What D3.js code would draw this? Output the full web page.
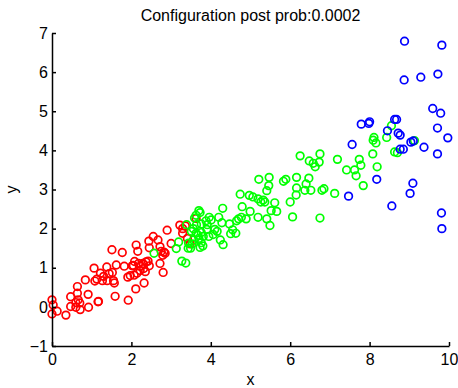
<!DOCTYPE html>
<html>
<head>
<meta charset="utf-8">
<script src="https://cdn.jsdelivr.net/npm/d3@7"></script>
<style>
  body { margin: 0; background: #fff; }
  svg { display: block; font-family: "Liberation Sans", Arial, sans-serif; }
  .axis path, .axis line { stroke: #000; stroke-width: 1.5; }
  .axis text { font-size: 16px; fill: #000; }
</style>
</head>
<body>
<div id="chart"></div>
<script>
// cluster members, [x, y]
const red = [
  [0.00,0.18],[0.03,0.05],[0.00,-0.18],[0.13,-0.11],[0.35,-0.21],[0.47,0.01],[0.47,0.26],
  [0.60,-0.01],[0.64,0.52],[0.64,0.35],[0.71,-0.07],[0.66,0.18],[0.60,0.11],[0.70,0.10],
  [0.91,0.32],[0.92,-0.01],[0.84,0.69],[1.16,0.13],[1.06,0.99],[1.08,0.66],[1.13,0.71],
  [1.22,0.86],[1.30,0.78],[1.44,0.85],[1.52,0.88],[1.27,0.67],[1.39,0.67],[1.55,0.67],
  [1.57,0.61],[1.38,1.02],[1.51,1.46],[1.77,1.39],[2.12,1.58],[2.16,1.42],[1.62,1.07],
  [1.82,1.04],[2.02,1.05],[2.24,1.04],[2.29,1.11],[1.59,0.27],[1.17,0.14],[1.92,0.17],
  [2.11,0.46],[2.32,0.61],[1.91,0.76],[1.97,0.80],[2.07,0.81],[2.14,0.86],[2.22,0.93],
  [2.31,0.98],[2.35,0.90],[2.08,1.16],[2.05,1.06],[2.18,1.11],[2.30,1.09],[2.37,1.15],
  [2.42,1.17],[2.45,1.05],[2.72,1.11],[2.80,0.88],[2.44,1.68],[2.45,1.51],[2.55,1.80],
  [2.67,1.71],[2.72,1.54],[2.75,1.42],[2.79,1.32],[2.82,1.40],[2.85,1.37],[2.90,1.96],
  [3.00,1.62],[3.22,2.09],[3.29,2.00],[3.36,2.07],[3.29,1.88],[3.41,1.75],[3.48,1.61],
  [3.63,2.26]
];

const green = [
  [8.55,4.63],[8.11,4.33],[8.16,4.19],[8.09,4.26],[8.43,4.33],[8.63,3.96],[8.70,3.94],
  [9.13,4.25],[8.08,3.91],[8.19,3.58],[7.74,3.77],[7.78,3.62],[7.42,3.50],[7.62,3.50],
  [7.66,3.35],[7.84,3.10],[7.19,3.77],[6.25,3.86],[6.48,3.73],[6.58,3.67],[6.63,3.58],
  [6.75,3.91],[6.73,3.70],[7.12,2.90],[6.85,3.02],[6.80,2.98],[6.37,2.98],[6.52,2.98],
  [6.16,3.04],[6.15,2.86],[6.40,3.14],[6.47,3.29],[6.16,3.31],[5.83,3.21],[5.89,3.26],
  [5.21,3.26],[5.47,3.31],[5.46,3.10],[5.41,2.97],[6.00,2.68],[6.06,2.30],[6.75,2.27],
  [4.74,2.88],[4.97,2.85],[5.06,2.81],[4.79,2.56],[5.19,2.76],[5.32,2.73],[5.36,2.68],
  [5.26,2.68],[5.61,2.66],[5.52,2.46],[5.66,2.44],[4.99,2.44],[5.19,2.29],[5.41,2.25],
  [5.49,2.08],[4.89,2.25],[4.77,2.29],[4.30,2.52],[4.28,2.15],[4.47,2.12],[4.65,2.20],
  [4.70,2.25],[4.55,1.97],[4.63,1.88],[4.50,1.87],[3.70,2.46],[3.73,2.41],[3.63,2.34],
  [3.96,2.29],[4.01,2.22],[3.88,2.20],[3.91,2.10],[4.20,2.29],[3.59,2.27],[3.64,2.10],
  [3.76,2.12],[3.39,2.10],[3.56,2.00],[3.51,1.93],[3.63,1.88],[3.90,1.98],[3.76,1.90],
  [3.68,1.83],[3.81,1.80],[3.70,1.75],[3.56,1.71],[3.53,1.61],[4.10,1.98],[4.16,1.93],
  [3.95,1.80],[4.06,1.85],[4.24,1.71],[4.31,1.59],[3.49,1.50],[3.43,1.50],[3.80,1.56],
  [3.73,1.52],[3.76,1.64],[3.19,1.66],[3.13,1.49],[2.57,1.37],[3.27,1.17],[3.37,1.12],
  [3.44,1.63]
];

const blue = [
  [8.88,6.79],[9.82,6.69],[8.87,5.80],[9.29,5.87],[9.72,5.95],[9.59,5.07],[9.79,4.95],
  [8.63,4.79],[8.68,4.79],[9.71,4.57],[9.97,4.32],[8.72,4.44],[8.77,4.39],[9.04,4.21],
  [9.10,4.24],[9.37,4.08],[9.71,3.91],[8.77,4.03],[8.85,4.03],[7.79,4.67],[7.98,4.69],
  [8.00,4.73],[8.45,4.50],[7.56,4.15],[8.18,3.26],[7.47,2.83],[8.56,2.58],[9.09,3.16],
  [9.02,2.90],[9.81,2.40],[9.82,2.00]
];

const xTicks = [0, 2, 4, 6, 8, 10];
const yTicks = [-1, 0, 1, 2, 3, 4, 5, 6, 7];
const title = "Configuration post prob:0.0002";

const width = 458, height = 388;
const margin = { left: 52, right: 9, top: 33, bottom: 42 };

const svg = d3.select("#chart").append("svg")
  .attr("width", width)
  .attr("height", height);

const x = d3.scaleLinear().domain([0, 10]).range([margin.left, width - margin.right]);
const y = d3.scaleLinear().domain([-1, 7]).range([height - margin.bottom, margin.top]);

// points first, axes on top like matlab
const groups = [
  { pts: red, color: "#ff0000" },
  { pts: green, color: "#00ff00" },
  { pts: blue, color: "#0000ff" }
];

groups.forEach(g => {
  svg.append("g")
    .selectAll("circle")
    .data(g.pts)
    .join("circle")
    .attr("cx", d => x(d[0]))
    .attr("cy", d => y(d[1]))
    .attr("r", 3.8)
    .attr("fill", "none")
    .attr("stroke", g.color)
    .attr("stroke-width", 1.7);
});

svg.append("g")
  .attr("class", "axis")
  .attr("transform", `translate(0,${height - margin.bottom})`)
  .call(d3.axisBottom(x).tickValues(xTicks).tickSizeInner(-4).tickSizeOuter(0).tickPadding(8))
  .call(g => g.selectAll("text").attr("font-size", null));

svg.append("g")
  .attr("class", "axis")
  .attr("transform", `translate(${margin.left},0)`)
  .call(d3.axisLeft(y).tickValues(yTicks).tickSizeInner(-4).tickSizeOuter(0).tickPadding(4))
  .call(g => g.selectAll("text").attr("font-size", null));

svg.selectAll(".axis").attr("font-family", null);

// title and labels
svg.append("text")
  .attr("x", (x(0) + x(10)) / 2)
  .attr("y", 21)
  .attr("text-anchor", "middle")
  .attr("font-size", 16)
  .text(title);

svg.append("text")
  .attr("x", (x(0) + x(10)) / 2)
  .attr("y", 385)
  .attr("text-anchor", "middle")
  .attr("font-size", 16)
  .text("x");

svg.append("text")
  .attr("transform", `translate(17,${(y(-1) + y(7)) / 2}) rotate(-90)`)
  .attr("text-anchor", "middle")
  .attr("font-size", 16)
  .text("y");
</script>
</body>
</html>
